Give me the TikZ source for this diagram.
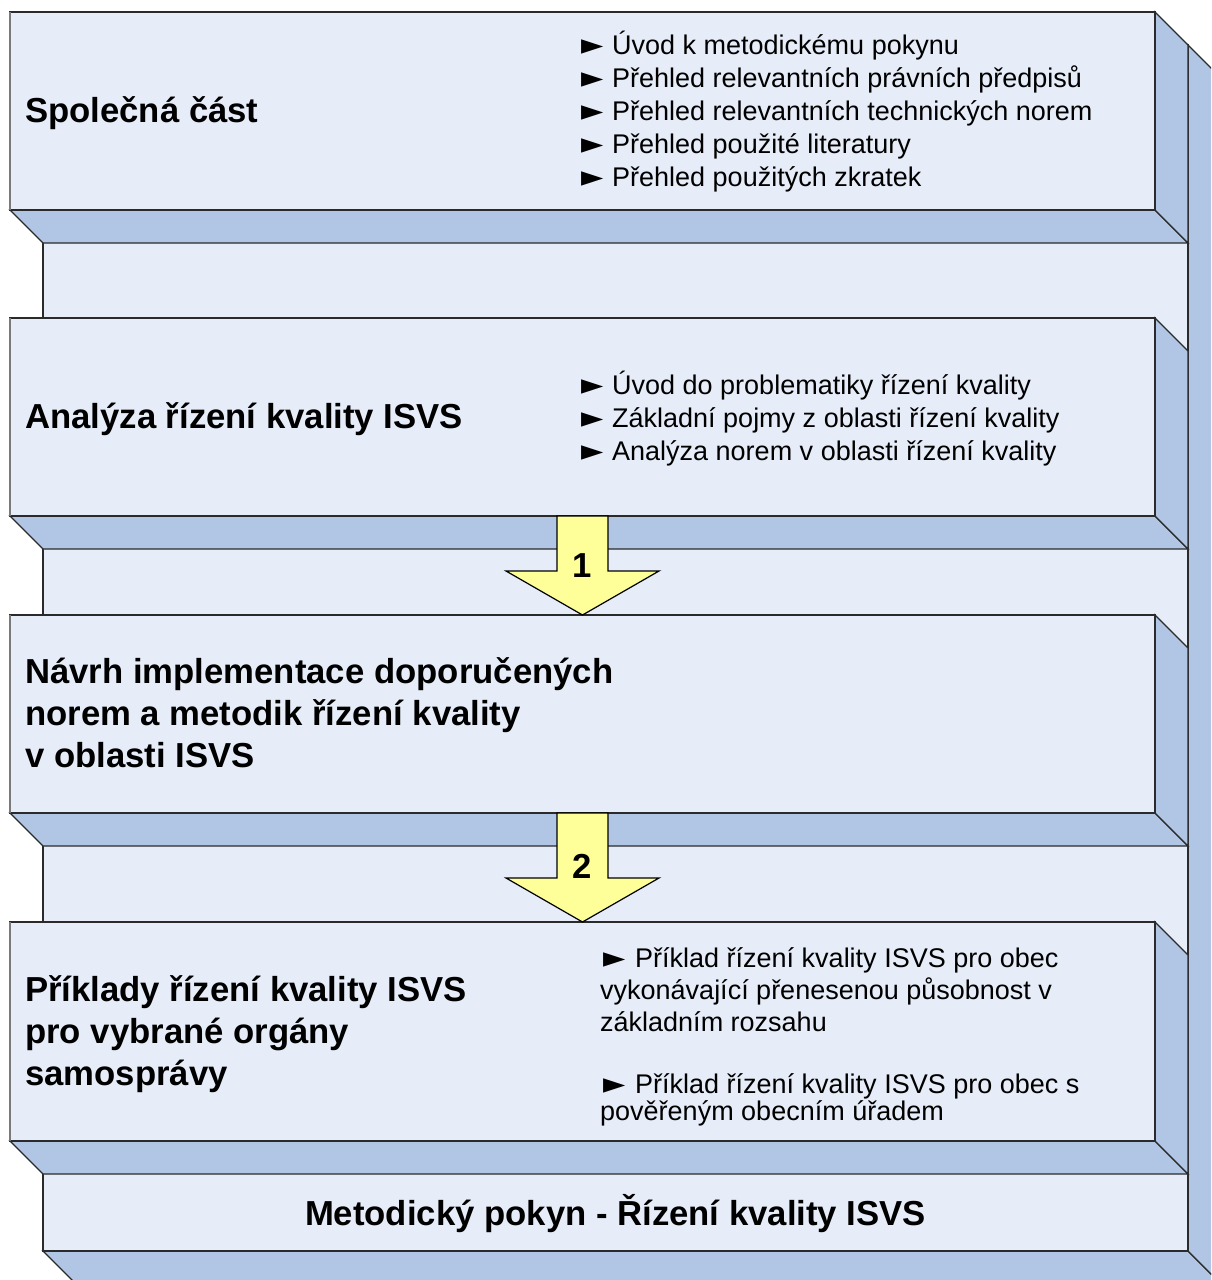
\documentclass[tikz,border=0pt]{standalone}
\usepackage{fontspec}
\setmainfont{Liberation Sans}
\newfontfamily\markfont{DejaVu Sans}
\usetikzlibrary{calc}

\definecolor{faceC}{HTML}{E6EDF8}
\definecolor{sideC}{HTML}{B0C6E4}
\definecolor{edgeC}{HTML}{2A2A2A}
\definecolor{leftC}{HTML}{7A7A7A}
\definecolor{arrowC}{HTML}{FFFF99}

% bullet mark in a box of fixed width
\newcommand\bulletmark[1]{\makebox[#1][l]{\hspace*{3pt}{\markfont\fontsize{29}{33}\selectfont ►}}}

% extruded slab: bottom and right faces behind the front face node
\newcommand\slabfaces[1]{%
  \filldraw[sideC, draw=edgeC, line width=1.3pt, line join=miter]
    (#1.south west) -- ($(#1.south west)+(33,33)$) -- ($(#1.south east)+(33,33)$)
    -- (#1.south east) -- cycle;
  \filldraw[sideC, draw=edgeC, line width=1.3pt, line join=miter]
    (#1.north east) -- ($(#1.north east)+(33,33)$) -- ($(#1.south east)+(33,33)$)
    -- (#1.south east) -- cycle;
  \draw[leftC, line width=2pt] (#1.south west) -- (#1.north west);
}

\tikzset{
  face/.style={rectangle, fill=faceC, draw=edgeC, line width=1.3pt,
    inner sep=0pt, outer sep=0pt, anchor=north west},
  headline/.style={font=\bfseries\fontsize{34.7}{42}\selectfont, inner sep=0pt,
    align=left},
  bullets/.style={font=\fontsize{27}{33}\selectfont, inner sep=0pt, align=left},
  blockarrow/.style={fill=arrowC, draw=black, line width=1.2pt, line join=miter},
  num/.style={font=\bfseries\fontsize{34.7}{42}\selectfont, inner sep=0pt, anchor=base},
}

\begin{document}
\begin{tikzpicture}[x=1pt, y=-1pt]
\useasboundingbox (0,0) rectangle (1211,1280);
\clip (0,0) rectangle (1211,1280);
\fill[white] (0,0) rectangle (1211,1280);

% back panel
\node[face, minimum width=1145pt, minimum height=1206pt] (bp) at (43,45) {};
\slabfaces{bp}
\node[face, minimum width=1145pt, minimum height=1206pt] at (bp.north west) {};

% four stacked slabs
\node[face, minimum width=1145pt, minimum height=198pt] (b1) at (10,12) {};
\slabfaces{b1}
\node[face, minimum width=1145pt, minimum height=198pt] at (b1.north west) {};

\node[face, minimum width=1145pt, minimum height=198pt] (b2) at (10,318) {};
\slabfaces{b2}
\node[face, minimum width=1145pt, minimum height=198pt] at (b2.north west) {};

\node[face, minimum width=1145pt, minimum height=198pt] (b3) at (10,615) {};
\slabfaces{b3}
\node[face, minimum width=1145pt, minimum height=198pt] at (b3.north west) {};

\node[face, minimum width=1145pt, minimum height=219pt] (b4) at (10,922) {};
\slabfaces{b4}
\node[face, minimum width=1145pt, minimum height=219pt] at (b4.north west) {};

\draw[leftC, line width=2pt] (b1.south west) -- (b1.north west);
\draw[leftC, line width=2pt] (b2.south west) -- (b2.north west);
\draw[leftC, line width=2pt] (b3.south west) -- (b3.north west);
\draw[leftC, line width=2pt] (b4.south west) -- (b4.north west);

% block arrows between the slabs
\draw[blockarrow] ($(b2.south)+(-25.5,0)$) -- ($(b2.south)+(25.5,0)$)
  -- ($(b3.north)+(25.5,-44)$) -- ($(b3.north)+(76.5,-44)$) -- (b3.north)
  -- ($(b3.north)+(-76.5,-44)$) -- ($(b3.north)+(-25.5,-44)$) -- cycle;
\draw[blockarrow] ($(b3.south)+(-25.5,0)$) -- ($(b3.south)+(25.5,0)$)
  -- ($(b4.north)+(25.5,-44)$) -- ($(b4.north)+(76.5,-44)$) -- (b4.north)
  -- ($(b4.north)+(-76.5,-44)$) -- ($(b4.north)+(-25.5,-44)$) -- cycle;
\node[num] (n1) at (582,577.4) {1};
\node[num] (n2) at (582,878.4) {2};

% headings
\node[headline, anchor=base west] (h1) at (25,122.4) {Společná část};
\node[headline, anchor=base west] (h2) at (25,428.4) {Analýza řízení kvality ISVS};
\node[headline, anchor=west] (h3) at (25,712.4)
  {Návrh implementace doporučených\\norem a metodik řízení kvality\\v oblasti ISVS};
\node[headline, anchor=west] (h4) at (25,1034)
  {Příklady řízení kvality ISVS\\pro vybrané orgány\\samosprávy};
\node[headline, anchor=base] (h5) at (615.5,1225.4) {Metodický pokyn - Řízení kvality ISVS};

% bullet lists
\node[bullets, anchor=west] (l1) at (578,112)
  {\bulletmark{34pt}Úvod k metodickému pokynu\\
   \bulletmark{34pt}Přehled relevantních právních předpisů\\
   \bulletmark{34pt}Přehled relevantních technických norem\\
   \bulletmark{34pt}Přehled použité literatury\\
   \bulletmark{34pt}Přehled použitých zkratek};
\node[bullets, anchor=west] (l2) at (578,419)
  {\bulletmark{34pt}Úvod do problematiky řízení kvality\\
   \bulletmark{34pt}Základní pojmy z oblasti řízení kvality\\
   \bulletmark{34pt}Analýza norem v oblasti řízení kvality};
\node[bullets, anchor=west, font=\fontsize{27}{32}\selectfont] (l4) at (600,1037)
  {\bulletmark{35pt}Příklad řízení kvality ISVS pro obec\\
   vykonávající přenesenou působnost v\\
   základním rozsahu\\[30pt]
   \bulletmark{35pt}Příklad řízení kvality ISVS pro obec s\\[-5pt]
   pověřeným obecním úřadem};
\end{tikzpicture}
\end{document}
